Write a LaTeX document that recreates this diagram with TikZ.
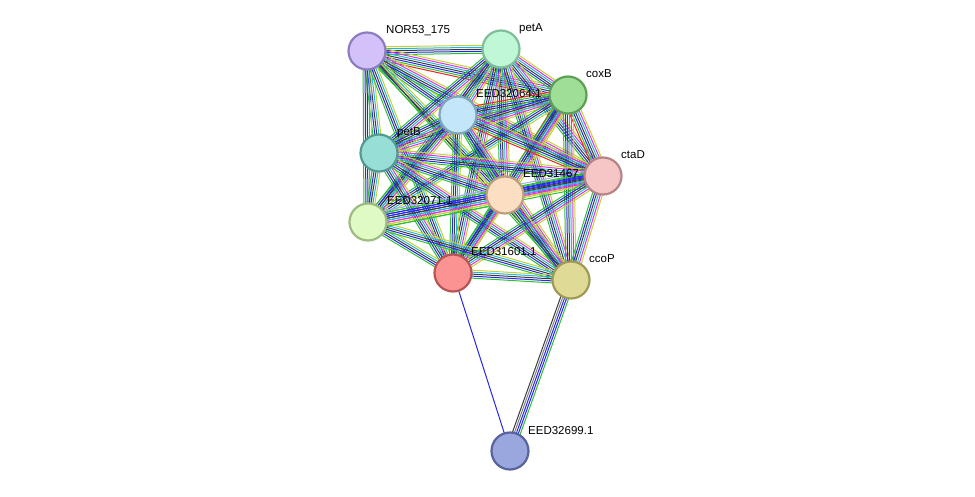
\documentclass[tikz,border=0pt]{standalone}
\usepackage{fontspec}
\setmainfont{Liberation Sans}
\usetikzlibrary{calc,backgrounds}

\definecolor{lnkgreen}{HTML}{2EC12E}
\definecolor{lnkblue}{HTML}{2626F0}
\definecolor{lnkblack}{HTML}{3C3C3C}
\definecolor{lnkcyan}{HTML}{22B4E0}
\definecolor{lnkmag}{HTML}{E030E0}
\definecolor{lnkyel}{HTML}{C2D234}
\definecolor{lnkred}{HTML}{F02020}
\definecolor{lnkhom}{HTML}{A8A8F8}

% node colours (fill / border)
\definecolor{norF}{HTML}{D3C2F9}\definecolor{norD}{HTML}{8E7CC2}
\definecolor{petaF}{HTML}{BFF7D7}\definecolor{petaD}{HTML}{7EBF9A}
\definecolor{coxbF}{HTML}{9FDE96}\definecolor{coxbD}{HTML}{5E9F56}
\definecolor{e064F}{HTML}{C3E6FA}\definecolor{e064D}{HTML}{7FA6BD}
\definecolor{petbF}{HTML}{96DED6}\definecolor{petbD}{HTML}{559A92}
\definecolor{ctadF}{HTML}{F6C6C6}\definecolor{ctadD}{HTML}{B68484}
\definecolor{e467F}{HTML}{FCDEC2}\definecolor{e467D}{HTML}{BC9D80}
\definecolor{e071F}{HTML}{E0FAC3}\definecolor{e071D}{HTML}{9FBB82}
\definecolor{e601F}{HTML}{FB9393}\definecolor{e601D}{HTML}{B95454}
\definecolor{ccopF}{HTML}{DFDA96}\definecolor{ccopD}{HTML}{9F9A56}
\definecolor{e699F}{HTML}{9AA6DE}\definecolor{e699D}{HTML}{59639E}

% evidence colour sets
\def\setF{lnkred,lnkgreen,lnkblue,lnkblack,lnkcyan,lnkmag,lnkyel}
\def\setA{lnkgreen,lnkblue,lnkblack,lnkcyan,lnkmag,lnkyel}
\def\setB{lnkgreen,lnkblue,lnkblack,lnkcyan,lnkyel}
\def\setC{lnkgreen,lnkblack,lnkyel}
\def\setW{lnkhom,lnkgreen,lnkblue,lnkblue,lnkblack,lnkcyan,lnkmag,lnkyel,lnkgreen}
\def\setS{lnkblue}
\def\setP{lnkblack,gray,lnkblue,lnkblue,lnkgreen}

% parallel lines between two proteins
\newcommand{\strlink}[3]{%
  \gdef\nlnk{0}%
  \foreach \c in #3 {\pgfmathtruncatemacro\tmp{\nlnk+1}\global\let\nlnk\tmp}%
  \foreach \c [count=\i] in #3 {%
    \pgfmathsetmacro\off{(\i-(\nlnk+1)/2)*2}%
    \draw[\c,line width=1pt] ($(#1)!\off pt!90:(#2)$) -- ($(#2)!\off pt!-90:(#1)$);}}

\tikzset{
  prot/.style={circle,draw=#1D,fill=#1F,line width=2.2pt,minimum size=37pt,inner sep=0pt},
  lbl/.style={anchor=base west,font=\fontsize{11.5}{13}\selectfont,inner sep=0pt},
}

\begin{document}
\begin{tikzpicture}[x=1pt,y=-1pt]
\useasboundingbox (0,0) rectangle (975,497);

% Proteins
\node[prot=nor] (nor) at (367,51) {};
\node[prot=peta] (peta) at (501,49) {};
\node[prot=coxb] (coxb) at (568,95) {};
\node[prot=e064] (e064) at (458,115) {};
\node[prot=petb] (petb) at (379,153) {};
\node[prot=ctad] (ctad) at (603,176) {};
\node[prot=e467] (e467) at (505,195) {};
\node[prot=e071] (e071) at (368,222) {};
\node[prot=e601] (e601) at (453,273) {};
\node[prot=ccop] (ccop) at (571,280) {};
\node[prot=e699] (e699) at (510,451) {};

% Labels
\node[lbl] (nor-l) at ([shift={(19pt,17pt)}]nor.center) {NOR53\_175};
\node[lbl] (peta-l) at ([shift={(18pt,17pt)}]peta.center) {petA};
\node[lbl] (coxb-l) at ([shift={(18pt,17pt)}]coxb.center) {coxB};
\node[lbl] (e064-l) at ([shift={(18pt,17pt)}]e064.center) {EED32064.1};
\node[lbl] (petb-l) at ([shift={(18pt,17pt)}]petb.center) {petB};
\node[lbl] (ctad-l) at ([shift={(18pt,17pt)}]ctad.center) {ctaD};
\node[lbl] (e467-l) at ([shift={(18pt,17pt)}]e467.center) {EED31467};
\node[lbl] (e071-l) at ([shift={(19pt,17pt)}]e071.center) {EED32071.1};
\node[lbl] (e601-l) at ([shift={(18pt,17pt)}]e601.center) {EED31601.1};
\node[lbl] (ccop-l) at ([shift={(18pt,17pt)}]ccop.center) {ccoP};
\node[lbl] (e699-l) at ([shift={(18pt,17pt)}]e699.center) {EED32699.1};

% Links
\begin{pgfonlayer}{background}
\strlink{nor}{peta}{\setB}
\strlink{nor}{coxb}{\setF}
\strlink{nor}{e064}{\setB}
\strlink{nor}{petb}{\setB}
\strlink{nor}{ctad}{\setA}
\strlink{nor}{e467}{\setB}
\strlink{nor}{e071}{\setB}
\strlink{nor}{e601}{\setB}
\strlink{nor}{ccop}{\setC}
\strlink{peta}{coxb}{\setA}
\strlink{peta}{e064}{\setF}
\strlink{peta}{petb}{\setA}
\strlink{peta}{ctad}{\setA}
\strlink{peta}{e467}{\setA}
\strlink{peta}{e071}{\setB}
\strlink{peta}{e601}{\setA}
\strlink{peta}{ccop}{\setA}
\strlink{coxb}{e064}{\setF}
\strlink{coxb}{petb}{\setA}
\strlink{coxb}{ctad}{\setF}
\strlink{coxb}{e467}{\setF}
\strlink{coxb}{e071}{\setB}
\strlink{coxb}{e601}{\setA}
\strlink{coxb}{ccop}{\setA}
\strlink{e064}{petb}{\setA}
\strlink{e064}{ctad}{\setF}
\strlink{e064}{e467}{\setA}
\strlink{e064}{e071}{\setA}
\strlink{e064}{e601}{\setB}
\strlink{e064}{ccop}{\setA}
\strlink{petb}{ctad}{\setA}
\strlink{petb}{e467}{\setA}
\strlink{petb}{e071}{\setB}
\strlink{petb}{e601}{\setA}
\strlink{petb}{ccop}{\setA}
\strlink{ctad}{e467}{\setA}
\strlink{ctad}{e071}{\setW}
\strlink{ctad}{e601}{\setA}
\strlink{ctad}{ccop}{\setA}
\strlink{e467}{e071}{\setW}
\strlink{e467}{e601}{\setA}
\strlink{e467}{ccop}{\setA}
\strlink{e071}{e601}{\setB}
\strlink{e071}{ccop}{\setB}
\strlink{e601}{ccop}{\setB}
\strlink{e601}{e699}{\setS}
\strlink{ccop}{e699}{\setP}
\end{pgfonlayer}

\end{tikzpicture}
\end{document}
